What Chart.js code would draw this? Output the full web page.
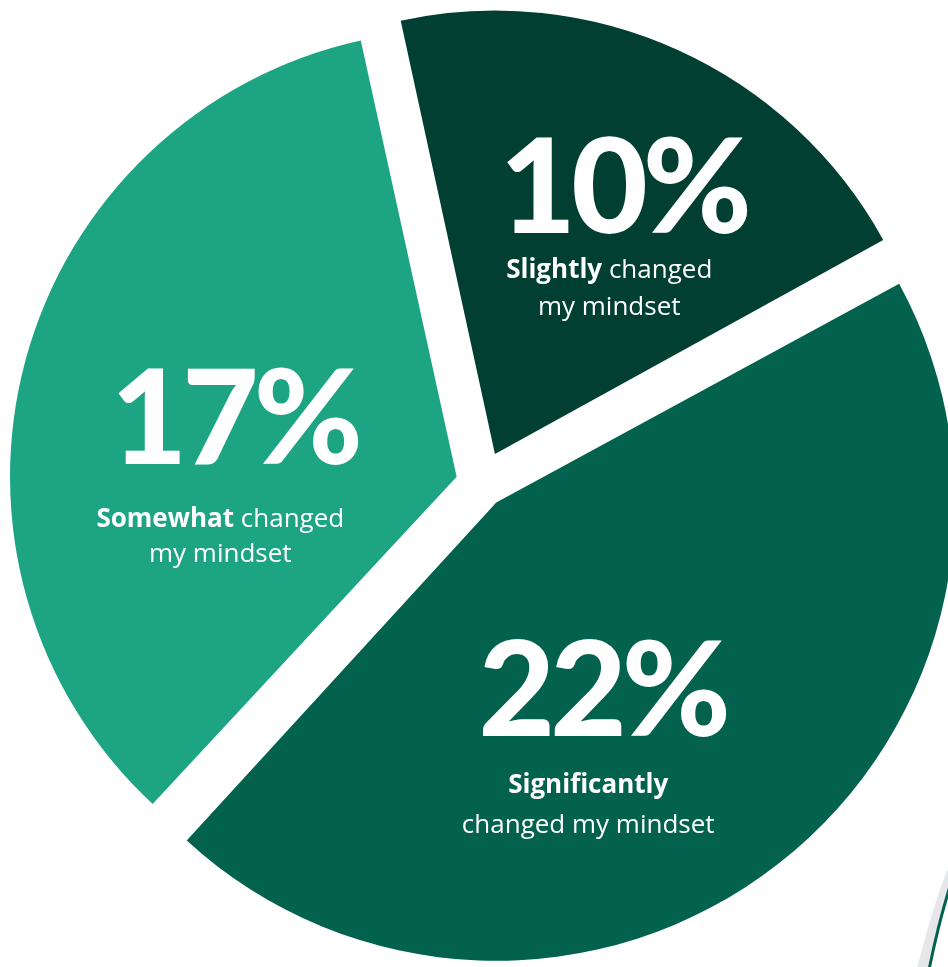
<!DOCTYPE html>
<html>
<head>
<meta charset="utf-8">
<script src="https://cdn.jsdelivr.net/npm/chart.js@4.4.1/dist/chart.umd.min.js"></script>
<style>
  html, body { margin: 0; padding: 0; background: #fff; }
  #wrap { width: 948px; height: 967px; overflow: hidden; }
</style>
</head>
<body>
<div id="wrap"><canvas id="mindsetChart" width="948" height="967"></canvas></div>
<script>
// Answers and share of respondents (percent)
const categories = ['Slightly', 'Significantly', 'Somewhat'];
const shares = [10, 22, 17];
const captionRest = [' changed', '', ' changed'];
const captionSecond = ['my mindset', 'changed my mindset', 'my mindset'];

const sliceColors = ['#013f32', '#02624d', '#1ca483'];
const sliceOffsets = [130, 96, 103];

// caption placement: distance from the centre and turn away from slice middle (deg)
const captionDist = [282, 273, 262];
const captionTurn = [2.5, 15, -10.8];
const captionGap = [46, 58, 64];
const captionLead = [37, 40, 35];

const BIG_FONT = '900 132px Lato';
const BOLD_FONT = 'bold 26px "Open Sans"';
const REG_FONT = '26px "Open Sans"';

// Draw the big percentage and the two-line caption inside every slice
const sliceCaptions = {
    id: 'sliceCaptions',
    afterDatasetsDraw(chart) {
        const ctx = chart.ctx;
        const arcs = chart.getDatasetMeta(0).data;
        ctx.save();
        ctx.fillStyle = '#ffffff';
        ctx.textBaseline = 'alphabetic';
        arcs.forEach((arc, i) => {
            const mid = (arc.startAngle + arc.endAngle) / 2 + captionTurn[i] * Math.PI / 180;
            const x = arc.x + Math.cos(mid) * captionDist[i];
            const y = arc.y + Math.sin(mid) * captionDist[i];

            ctx.font = BIG_FONT;
            ctx.letterSpacing = '-5px';
            ctx.textAlign = 'center';
            ctx.fillText(shares[i] + '%', x + 14, y + 1);
            ctx.letterSpacing = '0px';

            // first line: bold answer word, then regular text
            ctx.textAlign = 'left';
            ctx.font = BOLD_FONT;
            const wBold = ctx.measureText(categories[i]).width;
            ctx.font = REG_FONT;
            const wRest = ctx.measureText(captionRest[i]).width;
            const left = x - (wBold + wRest) / 2;
            const y1 = y + captionGap[i];
            ctx.font = BOLD_FONT;
            ctx.fillText(categories[i], left, y1);
            ctx.font = REG_FONT;
            ctx.fillText(captionRest[i], left + wBold, y1);

            ctx.textAlign = 'center';
            ctx.fillText(captionSecond[i], x, y1 + captionLead[i]);
        });
        ctx.restore();
    }
};

// thin stroke peeking in at the lower right corner
const cornerStroke = {
    id: 'cornerStroke',
    afterDraw(chart) {
        const ctx = chart.ctx;
        ctx.save();
        ctx.strokeStyle = '#e6e7e8';
        ctx.lineWidth = 11;
        ctx.beginPath();
        ctx.moveTo(952, 872);
        ctx.quadraticCurveTo(936, 915, 921, 975);
        ctx.stroke();
        ctx.strokeStyle = '#02624d';
        ctx.lineWidth = 3;
        ctx.beginPath();
        ctx.moveTo(950, 886);
        ctx.quadraticCurveTo(938, 925, 929, 970);
        ctx.stroke();
        ctx.restore();
    }
};

const mindsetChart = new Chart(document.getElementById('mindsetChart'), {
    type: 'pie',
    data: {
        labels: categories,
        datasets: [{
            data: shares,
            backgroundColor: sliceColors,
            offset: sliceOffsets,
            borderWidth: 0,
            hoverOffset: 0,
            clip: false
        }]
    },
    options: {
        responsive: false,
        devicePixelRatio: 1,
        animation: false,
        events: [],
        rotation: -12.3,
        radius: 442,
        layout: { padding: { left: 15, right: 0, top: 0, bottom: 0 } },
        plugins: {
            legend: { display: false },
            tooltip: { enabled: false }
        }
    },
    plugins: [sliceCaptions, cornerStroke]
});
</script>
</body>
</html>
